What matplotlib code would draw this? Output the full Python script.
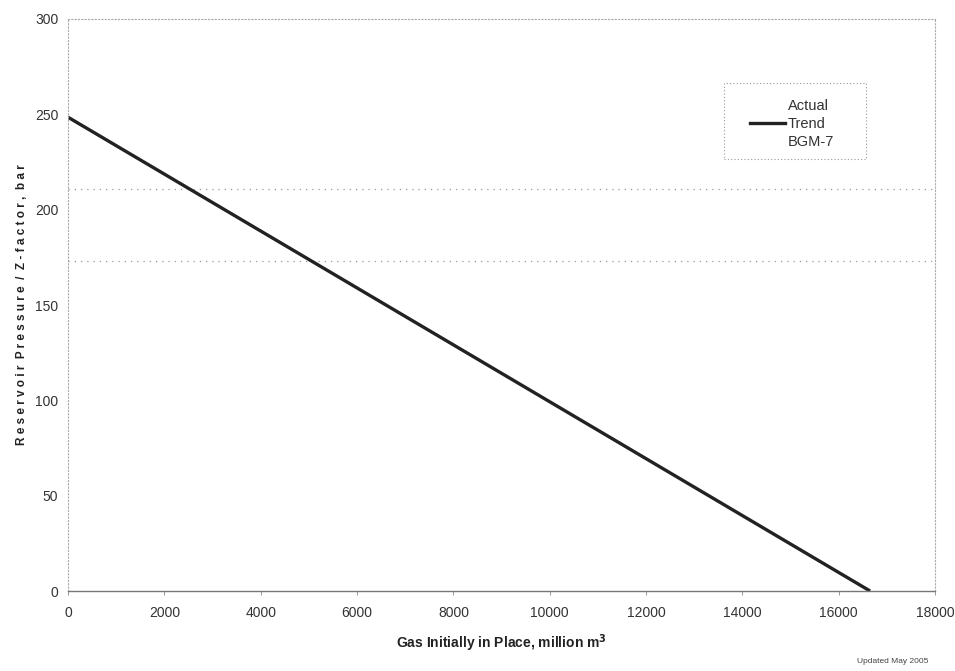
import matplotlib
matplotlib.use("Agg")
import matplotlib.pyplot as plt
from matplotlib.lines import Line2D
from matplotlib.patches import Rectangle

plt.rcParams["font.family"] = ["Liberation Sans", "DejaVu Sans"]

# trend line: GIP vs P/Z
trend_gip = [0, 16650]
trend_pz = [248.5, 0]

x_ticks = [0, 2000, 4000, 6000, 8000, 10000, 12000, 14000, 16000, 18000]
y_ticks = [0, 50, 100, 150, 200, 250, 300]
grid_levels = [173, 211]  # faint dotted lines as they sit on the scan
legend_labels = ["Actual", "Trend", "BGM-7"]

fig = plt.figure(figsize=(9.55, 6.71), dpi=100)
ax = fig.add_axes([0.0712, 0.1192, 0.908, 0.8525])

ax.plot(trend_gip, trend_pz, color="#222222", linewidth=2.4, solid_capstyle="butt")

for g in grid_levels:
    ax.axhline(g, color="#999999", linestyle=(0, (1, 4)), linewidth=0.9, zorder=0)

ax.set_xlim(0, 18000)
ax.set_ylim(0, 300)
ax.set_xticks(x_ticks)
ax.set_yticks(y_ticks)
ax.tick_params(axis="x", length=3, width=0.6, color="#888888", pad=8,
               labelsize=10, labelcolor="#333333")
ax.tick_params(axis="y", length=0, pad=7, labelsize=10, labelcolor="#333333")

ax.spines["bottom"].set_color("#777777")
ax.spines["bottom"].set_linewidth(1.0)
for side in ["left", "right", "top"]:
    ax.spines[side].set_color("#aaaaaa")
    ax.spines[side].set_linewidth(0.8)
    ax.spines[side].set_linestyle((0, (1, 2)))

ax.set_xlabel("Gas Initially in Place, million m$^\\mathbf{3}$", fontsize=10,
              fontweight="bold", color="#222222", labelpad=9)
ax.set_ylabel("R e s e r v o i r  P r e s s u r e  /  Z - f a c t o r ,  b a r",
              fontsize=8.5, fontweight="bold", color="#222222", labelpad=5)

# legend box drawn separately so it can be as wide as on the scan
ax.add_patch(Rectangle((0.7566, 0.755), 0.1638, 0.133, transform=ax.transAxes,
                       facecolor="white", edgecolor="#999999", linewidth=0.8,
                       linestyle=(0, (1, 2)), zorder=3))

handles = [
    Line2D([], [], linestyle="none", marker=None),
    Line2D([], [], color="#222222", linewidth=2.4),
    Line2D([], [], linestyle="none", marker=None),
]
leg = ax.legend(handles, legend_labels, loc="upper left",
                bbox_to_anchor=(0.7866, 0.861), frameon=False,
                fontsize=10.5, handlelength=2.4, borderpad=0, labelspacing=0.3,
                handletextpad=0.2, borderaxespad=0)
leg.set_zorder(4)
for t in leg.get_texts():
    t.set_color("#333333")

fig.text(0.972, 0.012, "Updated May 2005", fontsize=6, color="#444444", ha="right")

fig.savefig("out.png", dpi=100)
